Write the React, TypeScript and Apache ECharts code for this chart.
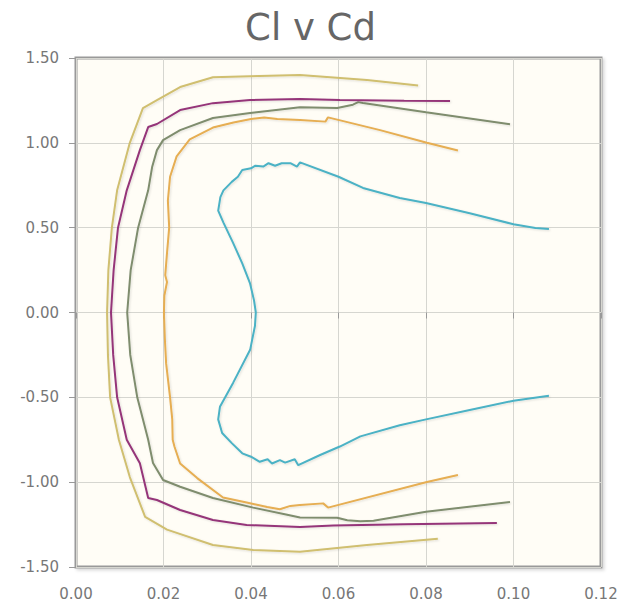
import React, { useEffect, useRef } from "react";
import * as echarts from "echarts";

const chartTitle = "Cl v Cd";
const xTicks = { min: 0, max: 0.12, interval: 0.02 };
const yTicks = { min: -1.5, max: 1.5, interval: 0.5 };

const seriesColors = ["#4bb2c5", "#e6ae52", "#7f8d6e", "#953579", "#d0bf70"];

// [Cd, Cl] pairs
const polarA: number[][] = [
  [0.1081, 0.492], [0.105, 0.498], [0.1, 0.52], [0.09, 0.585], [0.08, 0.645], [0.074, 0.675],
  [0.0656, 0.734], [0.06, 0.8], [0.0512, 0.885], [0.0505, 0.86], [0.049, 0.88], [0.047, 0.88],
  [0.0455, 0.865], [0.044, 0.88], [0.0428, 0.86], [0.041, 0.865], [0.04, 0.85], [0.038, 0.84],
  [0.037, 0.8], [0.0356, 0.77], [0.0337, 0.72], [0.033, 0.68], [0.0325, 0.6], [0.0337, 0.53],
  [0.0359, 0.41], [0.038, 0.29], [0.0398, 0.17], [0.0407, 0.07], [0.0411, 0.0], [0.0409, -0.08],
  [0.0398, -0.22], [0.0359, -0.415], [0.0329, -0.556], [0.0325, -0.63], [0.0334, -0.71],
  [0.0356, -0.77], [0.038, -0.83], [0.04, -0.85], [0.042, -0.88], [0.0438, -0.865], [0.0448, -0.89],
  [0.0466, -0.87], [0.0478, -0.885], [0.05, -0.865], [0.0508, -0.9], [0.0558, -0.84], [0.0603, -0.79],
  [0.065, -0.73], [0.074, -0.665], [0.08, -0.63], [0.09, -0.575], [0.1, -0.52], [0.1081, -0.49],
];

const polarB: number[][] = [
  [0.0873, 0.955], [0.0802, 1.0], [0.0695, 1.075], [0.0576, 1.15], [0.057, 1.125], [0.0512, 1.134],
  [0.046, 1.14], [0.043, 1.15], [0.04, 1.14], [0.036, 1.12], [0.0313, 1.09], [0.026, 1.02],
  [0.023, 0.92], [0.0215, 0.8], [0.021, 0.66], [0.0213, 0.5], [0.0208, 0.35], [0.0204, 0.22],
  [0.0208, 0.18], [0.0202, 0.1], [0.0201, 0.0], [0.0203, -0.15], [0.0206, -0.3], [0.0215, -0.5],
  [0.022, -0.63], [0.0221, -0.75], [0.0225, -0.79], [0.0238, -0.89], [0.0277, -0.976],
  [0.0336, -1.09], [0.039, -1.12], [0.0437, -1.146], [0.0466, -1.16], [0.049, -1.14],
  [0.0512, -1.134], [0.0565, -1.125], [0.0576, -1.15], [0.0802, -0.999], [0.0873, -0.958],
];

const polarC: number[][] = [
  [0.0992, 1.11], [0.08, 1.18], [0.0656, 1.235], [0.0645, 1.24], [0.0633, 1.225], [0.0597, 1.205],
  [0.0512, 1.21], [0.0398, 1.176], [0.0313, 1.146], [0.0238, 1.075], [0.0199, 1.016], [0.0185, 0.957],
  [0.0174, 0.857], [0.0165, 0.72], [0.0142, 0.5], [0.0125, 0.25], [0.0117, 0.0], [0.0124, -0.25],
  [0.014, -0.5], [0.0165, -0.75], [0.0176, -0.887], [0.0199, -0.987], [0.0238, -1.027],
  [0.0313, -1.093], [0.0405, -1.15], [0.048, -1.19], [0.0512, -1.208], [0.0597, -1.21],
  [0.062, -1.225], [0.065, -1.23], [0.068, -1.228], [0.08, -1.175], [0.0992, -1.117],
];

const polarD: number[][] = [
  [0.0855, 1.246], [0.075, 1.248], [0.0603, 1.252], [0.0512, 1.258], [0.0398, 1.252], [0.0313, 1.234],
  [0.0238, 1.193], [0.0185, 1.111], [0.0165, 1.093], [0.0146, 0.957], [0.0116, 0.72], [0.0096, 0.5],
  [0.0086, 0.25], [0.008, 0.0], [0.0085, -0.25], [0.0094, -0.5], [0.0116, -0.75], [0.0146, -0.888],
  [0.0165, -1.093], [0.0185, -1.105], [0.0238, -1.164], [0.0313, -1.223], [0.039, -1.252],
  [0.0512, -1.264], [0.0588, -1.255], [0.075, -1.248], [0.0962, -1.24],
];

const polarE: number[][] = [
  [0.0782, 1.338], [0.0665, 1.37], [0.0512, 1.4], [0.0313, 1.387], [0.0238, 1.329], [0.0185, 1.252],
  [0.0153, 1.205], [0.0123, 1.0], [0.0094, 0.72], [0.0082, 0.5], [0.0074, 0.25], [0.0071, 0.0],
  [0.0073, -0.25], [0.0078, -0.5], [0.0098, -0.75], [0.0123, -0.97], [0.0158, -1.205],
  [0.0208, -1.28], [0.0313, -1.37], [0.0405, -1.4], [0.0512, -1.41], [0.0665, -1.37], [0.0827, -1.333],
];

const allPolars = [polarA, polarB, polarC, polarD, polarE];

export default function App() {
  const ref = useRef<HTMLDivElement>(null);
  useEffect(() => {
    if (!ref.current) return;
    const chart = echarts.init(ref.current, null, { renderer: "svg" });
    const font = "DejaVu Sans";
    chart.setOption({
      animation: false,
      title: {
        text: chartTitle,
        left: "center",
        top: 4,
        textStyle: { fontFamily: font, fontSize: 37, fontWeight: "normal", color: "#666" },
      },
      grid: {
        left: 76,
        right: 20,
        top: 58,
        bottom: 37,
        show: true,
        backgroundColor: "#fffdf6",
        borderColor: "#999",
        borderWidth: 3,
        shadowColor: "rgba(0,0,0,0.15)",
        shadowBlur: 3,
        shadowOffsetX: 2,
        shadowOffsetY: 2,
      },
      xAxis: {
        type: "value",
        min: xTicks.min,
        max: xTicks.max,
        interval: xTicks.interval,
        axisLine: { show: false },
        axisTick: { show: true, length: 6, lineStyle: { color: "#999", width: 1 } },
        splitLine: { show: true, lineStyle: { color: "#d6d6d0", width: 1 } },
        axisLabel: {
          margin: 19,
          fontFamily: font,
          fontSize: 15,
          color: "#777",
          formatter: (v: number) => v.toFixed(2),
        },
      },
      yAxis: {
        type: "value",
        min: yTicks.min,
        max: yTicks.max,
        interval: yTicks.interval,
        axisLine: { show: false },
        axisTick: { show: true, length: 7, lineStyle: { color: "#999", width: 1 } },
        splitLine: { show: true, lineStyle: { color: "#d6d6d0", width: 1 } },
        axisLabel: {
          margin: 17,
          fontFamily: font,
          fontSize: 15,
          color: "#777",
          formatter: (v: number) => v.toFixed(2),
        },
      },
      series: allPolars.map((d, i) => ({
        type: "line",
        data: d,
        showSymbol: false,
        symbol: "none",
        smooth: false,
        lineStyle: {
          color: seriesColors[i],
          width: 2,
          shadowColor: "rgba(0,0,0,0.12)",
          shadowBlur: 2,
          shadowOffsetX: 1,
          shadowOffsetY: 1,
        },
        itemStyle: { color: seriesColors[i] },
        z: 2 + i,
      })),
    });
    return () => chart.dispose();
  }, []);
  return (
    <div
      ref={ref}
      style={{ position: "absolute", left: 0, top: 0, width: 621, height: 604 }}
    />
  );
}
